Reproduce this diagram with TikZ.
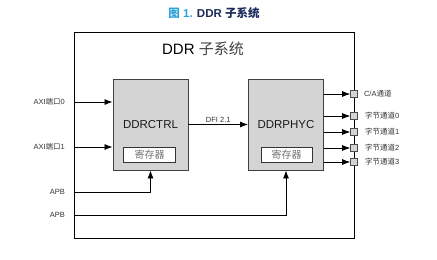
\documentclass[tikz,border=0pt]{standalone}
\usepackage{fontspec}
\setmainfont{Liberation Sans}
\newfontfamily\cjk{Noto Sans CJK SC}
\usepackage{xcolor}
\usetikzlibrary{arrows.meta,positioning}
\definecolor{boxgray}{HTML}{D4D4D4}
\definecolor{titleblue}{HTML}{2FA4DC}
\definecolor{titlenavy}{HTML}{1B2A5A}

\begin{document}
\begin{tikzpicture}[
    x=1pt,y=-1pt,
    frame/.style={draw,line width=0.9pt,minimum width=280pt,minimum height=206pt,inner sep=0pt},
    block/.style={draw=black!75,fill=boxgray,line width=0.9pt,minimum width=75pt,minimum height=91pt,inner sep=0pt,text=black!90,font=\fontsize{11.5}{12}\selectfont},
    regbox/.style={draw=black!80,fill=white,line width=0.8pt,minimum width=52pt,minimum height=15pt,inner sep=0pt,text=black!55,font=\cjk\fontsize{10}{11}\selectfont},
    port/.style={draw=black!70,fill=boxgray,line width=0.6pt,minimum size=7pt,inner sep=0pt},
    lbl/.style={inner sep=1pt,text=black!80,font=\fontsize{7.5}{8}\selectfont},
    arrow/.style={-{Latex[length=8pt,width=6pt]},line width=0.8pt}
  ]
    \useasboundingbox (0,0) rectangle (437,260);

    \node[font=\bfseries\fontsize{11.5}{12}\selectfont] (title) at (214,13)
      {\textcolor{titleblue}{{\cjk 图} 1.} \textcolor{titlenavy}{DDR {\cjk 子系统}}};

    \node[frame] (sys) at (214,135) {};
    \node[font=\fontsize{15}{16}\selectfont] (systitle) at (203,49) {DDR {\cjk\color{black!75}子系统}};

    \node[block] (ctrl) at (150.5,124.5) {DDRCTRL};
    \node[block] (phy) at (286,124.5) {DDRPHYC};
    \node[regbox] (ctrlreg) at (149.5,154.5) {寄存器};
    \node[regbox,minimum width=51pt] (phyreg) at (286.5,154.5) {寄存器};

    % inputs on the left
    \node[lbl,anchor=east] (axi0) at (66,102) {AXI{\cjk 端口}0};
    \node[lbl,anchor=east] (axi1) at (66,147) {AXI{\cjk 端口}1};
    \node[lbl,anchor=east] (apb0) at (66,192) {APB};
    \node[lbl,anchor=east] (apb1) at (66,215) {APB};

    % ports on the right
    \node[port] (ca) at (354,94) {};
    \node[port] (bl0) at (354,116) {};
    \node[port] (bl1) at (354,132) {};
    \node[port] (bl2) at (354,148) {};
    \node[port] (bl3) at (354,162) {};
    \node[lbl,right=5pt of ca] (calbl) {C/A{\cjk 通道}};
    \node[lbl,right=6pt of bl0] (bl0lbl) {{\cjk 字节通道}0};
    \node[lbl,right=6pt of bl1] (bl1lbl) {{\cjk 字节通道}1};
    \node[lbl,right=6pt of bl2] (bl2lbl) {{\cjk 字节通道}2};
    \node[lbl,right=6pt of bl3] (bl3lbl) {{\cjk 字节通道}3};

    \draw[arrow] (sys.west |- axi0) -- (ctrl.west |- axi0);
    \draw[arrow] (sys.west |- axi1) -- (ctrl.west |- axi1);
    \draw[arrow] (sys.west |- apb0) -| (ctrl.south);
    \draw[arrow] (sys.west |- apb1) -| (phy.south);
    \draw[arrow] (ctrl.east) -- node[lbl,above=1pt] (dfi) {DFI 2.1} (phy.west);
    \draw[arrow] (phy.east |- ca) -- (ca.west);
    \draw[arrow] (phy.east |- bl0) -- (bl0.west);
    \draw[arrow] (phy.east |- bl1) -- (bl1.west);
    \draw[arrow] (phy.east |- bl2) -- (bl2.west);
    \draw[arrow] (phy.east |- bl3) -- (bl3.west);
  \end{tikzpicture}
\end{document}
